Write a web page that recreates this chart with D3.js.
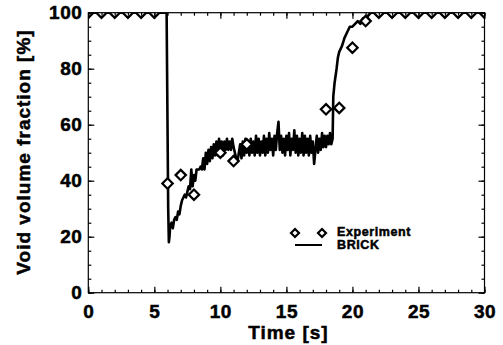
<!DOCTYPE html>
<html><head><meta charset="utf-8">
<script src="https://cdn.jsdelivr.net/npm/d3@7"></script>
<style>body{margin:0;background:#fff}svg{display:block}text{font-family:"Liberation Sans",Arial,sans-serif;font-weight:bold;fill:#000;stroke:#000;stroke-width:0.5px}</style>
</head><body>
<svg id="c" width="503" height="345"></svg>
<script>
const expTime = [0,1,2,3,4,5,6,7,8,10,11,12,18,19,20,21,22,23,24,25,26,27,28,29,30];
const expVoid = [100,100,100,100,100,100,39,42,35,50,47,53,65.5,66,87.5,97,100,100,100,100,100,100,100,100,100];
const brickTime = [0,5.93,6.05,6.1,6.15,6.2,6.3,6.4,6.5,6.6,6.7,6.8,6.9,7.0,7.1,7.2,7.3,7.4,7.5,7.6,7.7,7.8,7.9,8.0,8.1,8.2,8.3,8.4,8.5,8.6,8.7,8.8,8.9,9.0,9.1,9.2,9.3,9.4,9.5,9.6,9.7,9.8,9.9,10.0,10.1,10.2,10.3,10.4,10.5,10.6,10.7,10.8,10.9,11.0,11.1,11.2,11.3,11.4,11.5,11.6,11.7,11.8,11.9,12.0,12.1,12.2,12.3,12.4,12.5,12.6,12.7,12.8,12.9,13.0,13.1,13.2,13.3,13.4,13.5,13.6,13.7,13.8,13.9,14.0,14.1,14.2,14.3,14.4,14.5,14.6,14.7,14.8,14.9,15.0,15.1,15.2,15.3,15.4,15.5,15.6,15.7,15.8,15.9,16.0,16.1,16.2,16.3,16.4,16.5,16.6,16.7,16.8,16.9,17.0,17.1,17.2,17.3,17.4,17.5,17.6,17.7,17.8,17.9,18.0,18.1,18.2,18.3,18.4,18.5,18.55,18.65,18.8,18.9,19.0,19.2,19.4,19.6,19.8,20.0,20.2,20.4,20.6,20.8,21.0,21.2,21.4,30];
const brickVoid = [100,100,30,18,20,24,25,23,26,27,26,29,28,31,33,34,35,34,36,38,37,44,38,42,40,44,44,44,45,44,48,44,50,46,51,47,52,48,53,49,54,49,55,50,54,49,54,51,55,51,54,51,55,52,50,48,47,50,53,48,54,49,55,50,54,49,55,50,54,49,56,50,55,49,54,50,56,49,55,50,57,51,55,49,56,51,57,61,51,56,50,55,49,56,51,57,49,55,51,58,50,56,49,55,50,57,49,56,50,55,49,56,50,54,46,51,56,50,55,51,57,52,56,52,56,53,57,53,55,70,75,80,84,86,88,91,93,95,95,96,97,96,98,97,99,100,100];
const xTicks = [0,5,10,15,20,25,30];
const yTicks = [0,20,40,60,80,100];
const legendLabels = ["Experiment","BRICK"];

const svg = d3.select("#c");
const L=88.3,R=484.5,T=12.7,B=292.7;
const x = d3.scaleLinear().domain([0,30]).range([L,R]);
const y = d3.scaleLinear().domain([0,100]).range([B,T]);

svg.append("defs").append("clipPath").attr("id","clip").append("rect")
  .attr("x",L).attr("y",T).attr("width",R-L).attr("height",B-T);

const plot = svg.append("g").attr("clip-path","url(#clip)");
const lineData = brickTime.map((t,i)=>[t,brickVoid[i]]);
plot.append("path").datum(lineData)
  .attr("d", d3.line().x(d=>x(d[0])).y(d=>y(d[1])))
  .attr("fill","none").attr("stroke","#000").attr("stroke-width",2.6).attr("stroke-linejoin","round");

const diamond = (cx,cy,r)=>`M${cx},${cy-r}L${cx+r},${cy}L${cx},${cy+r}L${cx-r},${cy}Z`;
plot.selectAll(".dm").data(expTime.map((t,i)=>[t,expVoid[i]])).join("path")
  .attr("d",d=>diamond(x(d[0]),y(d[1]),5.2))
  .attr("fill","#fff").attr("stroke","#000").attr("stroke-width",2.2);

svg.append("rect").attr("x",L).attr("y",T).attr("width",R-L).attr("height",B-T)
  .attr("fill","none").attr("stroke","#000").attr("stroke-width",1.2);

function styleAxis(g){g.select(".domain").remove();g.selectAll("line").attr("stroke","#000").attr("stroke-width",1.2);}
const xMinor = d3.range(0,31,1), yMinor = d3.range(0,101,5);
svg.append("g").attr("transform",`translate(0,${B})`).call(d3.axisBottom(x).tickValues(xMinor).tickSize(-3).tickFormat("")).call(styleAxis);
svg.append("g").attr("transform",`translate(0,${T})`).call(d3.axisTop(x).tickValues(xMinor).tickSize(-3).tickFormat("")).call(styleAxis);
svg.append("g").attr("transform",`translate(${L},0)`).call(d3.axisLeft(y).tickValues(yMinor).tickSize(-3).tickFormat("")).call(styleAxis);
svg.append("g").attr("transform",`translate(${R},0)`).call(d3.axisRight(y).tickValues(yMinor).tickSize(-3).tickFormat("")).call(styleAxis);

function styleText(g){g.selectAll("text").attr("font-size",19).attr("font-family","Liberation Sans, Arial").attr("font-weight","bold").attr("fill","#000").style("letter-spacing","0.5px");}
svg.append("g").attr("transform",`translate(0,${B})`).call(d3.axisBottom(x).tickValues(xTicks).tickSize(-6).tickPadding(12).tickFormat(d3.format("d"))).call(styleAxis).call(styleText);
svg.append("g").attr("transform",`translate(0,${T})`).call(d3.axisTop(x).tickValues(xTicks).tickSize(-6).tickFormat("")).call(styleAxis);
svg.append("g").attr("transform",`translate(${L},0)`).call(d3.axisLeft(y).tickValues(yTicks).tickSize(-6).tickPadding(6).tickFormat(d3.format("d"))).call(styleAxis).call(styleText);
svg.append("g").attr("transform",`translate(${R},0)`).call(d3.axisRight(y).tickValues(yTicks).tickSize(-6).tickFormat("")).call(styleAxis);

svg.append("text").attr("x",(L+R)/2+2).attr("y",339).attr("text-anchor","middle")
  .attr("font-size",19).style("letter-spacing","1px").text("Time [s]");
svg.append("text").attr("transform","translate(30,152) rotate(-90)").attr("text-anchor","middle")
  .attr("font-size",19).style("letter-spacing","1px").text("Void volume fraction [%]");

const lg = svg.append("g");
lg.selectAll(".ld").data([295,322]).join("path")
  .attr("d",d=>diamond(d,233,4)).attr("fill","#fff").attr("stroke","#000").attr("stroke-width",2.2);
lg.append("line").attr("x1",295).attr("x2",322).attr("y1",245).attr("y2",245).attr("stroke","#000").attr("stroke-width",2);
lg.selectAll(".lt").data(legendLabels).join("text")
  .attr("x",337).attr("y",(d,i)=>236+i*12.5).attr("font-size",12.5).style("letter-spacing","0.6px").text(d=>d);
</script>
</body></html>
